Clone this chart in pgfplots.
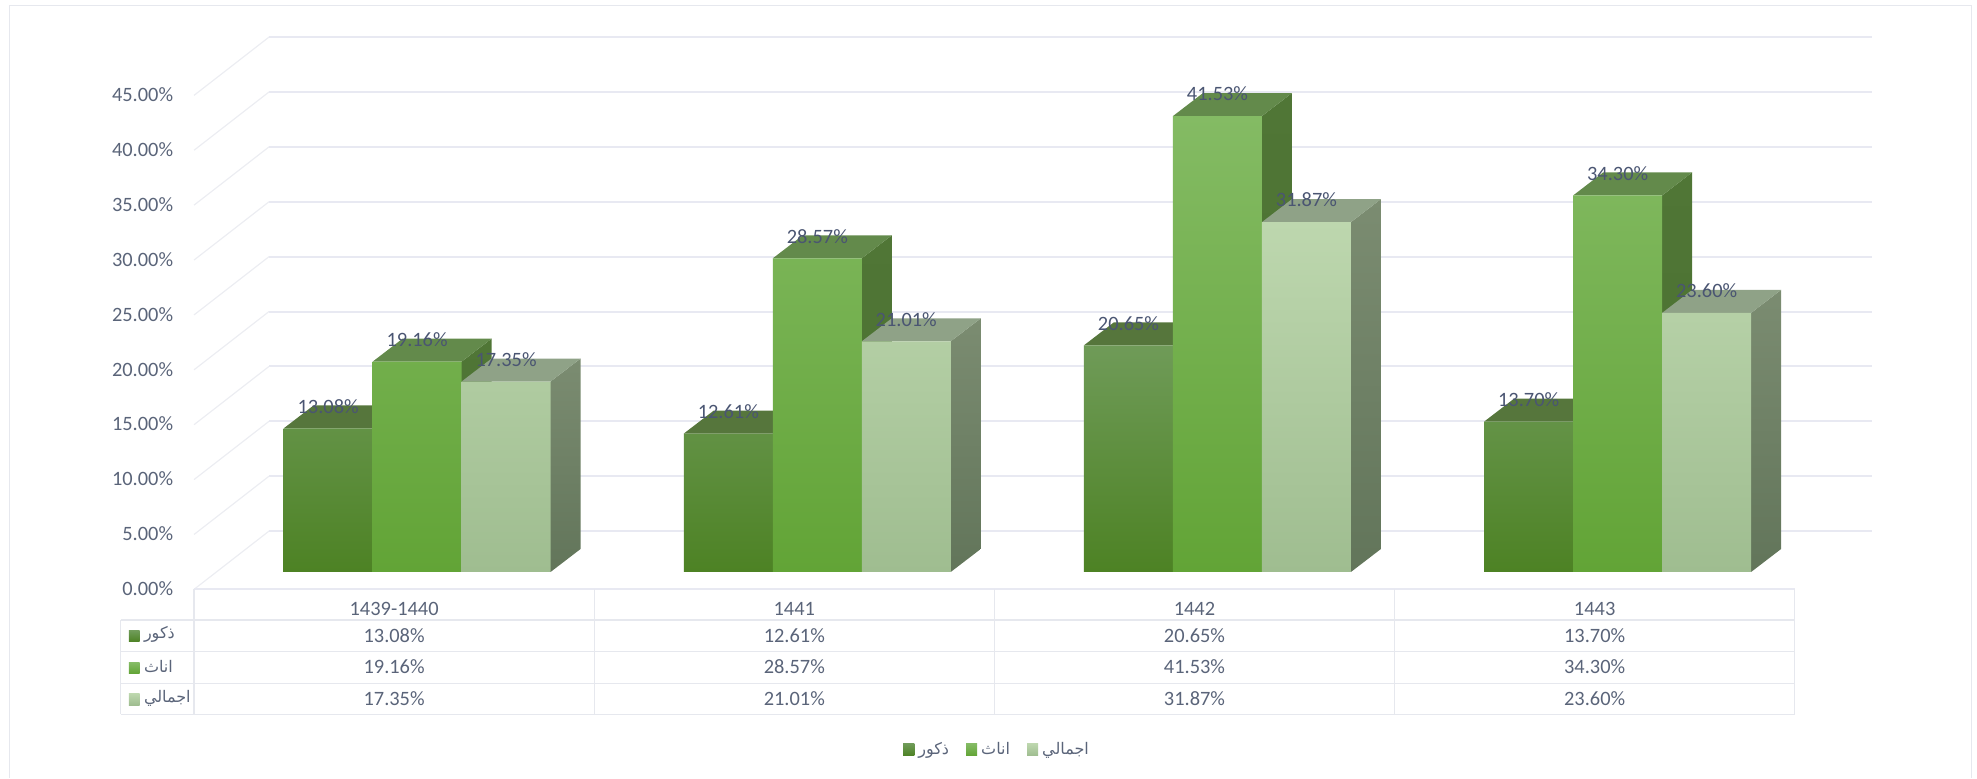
\documentclass[border=0pt]{standalone}
\usepackage{pgfplots}
\usepackage{fontspec}
\pgfplotsset{compat=1.18}
\setmainfont{Carlito}
\newfontfamily\arabicfont[Script=Arabic]{DejaVu Sans}
\TeXXeTstate=1
\definecolor{gridc}{HTML}{E8E9F2}
\definecolor{diagc}{HTML}{ECEDF2}
\definecolor{framec}{HTML}{E6E8EE}
\definecolor{tickc}{HTML}{5A6479}
\definecolor{labc}{HTML}{4A5572}
\definecolor{mTop}{HTML}{6F9B58}\definecolor{mMid}{HTML}{5E9038}\definecolor{mBot}{HTML}{4D8224}
\definecolor{mRoof}{HTML}{56763C}\definecolor{mST}{HTML}{4F7035}\definecolor{mSB}{HTML}{42651F}
\definecolor{fTop}{HTML}{84BB64}\definecolor{fMid}{HTML}{70B243}\definecolor{fBot}{HTML}{62A436}
\definecolor{fRoof}{HTML}{638A4B}\definecolor{fST}{HTML}{507636}\definecolor{fSB}{HTML}{4A7030}
\definecolor{tTop}{HTML}{BDD7AE}\definecolor{tMid}{HTML}{B9D4A9}\definecolor{tBot}{HTML}{9FBD90}
\definecolor{tRoof}{HTML}{8FA287}\definecolor{tST}{HTML}{7B8C71}\definecolor{tSB}{HTML}{62755A}
\newcommand\arab[1]{{\arabicfont\fontsize{8}{10}\selectfont\beginR #1\endR}}
% depth of a bar in axis units
\def\dX{0.07495}\def\dY{2.095}
\pgfplotsset{
  barplace/.style={forget plot,xshift=11.5pt,yshift=8.7pt,draw=none},
  frontbar/.style={barplace,ybar,bar width=44.5pt,bar shift=#1,
    nodes near coords={\pgfmathprintnumber[fixed,fixed zerofill,precision=2]{\pgfplotspointmeta}\%},
    every node near coord/.style={anchor=center,xshift=#1,yshift=11pt,text=labc,font=\fontsize{10.2}{12}\selectfont}},
  wall/.style={forget plot,xshift=37.5pt,yshift=29.15pt,gridc,line width=1pt},
  tline/.style={forget plot,framec,line width=0.7pt},
}
\tikzset{cell/.style={text=tickc,font=\fontsize{10.2}{12}\selectfont}}
% #1 group, #2 left offset, #3 value, #4 #5 side colours, #6 roof colour
\newcommand\faces[6]{%
  \pgfmathsetmacro\xL{#1+#2}\pgfmathsetmacro\xR{\xL+0.22236}%
  \pgfmathsetmacro\xLb{\xL+\dX}\pgfmathsetmacro\xRb{\xR+\dX}\pgfmathsetmacro\vb{#3+\dY}%
  \addplot[barplace,top color=#4,bottom color=#5] coordinates {(\xR,0)(\xR,#3)(\xRb,\vb)(\xRb,\dY)} --cycle;
  \addplot[barplace,fill=#6] coordinates {(\xL,#3)(\xR,#3)(\xRb,\vb)(\xLb,\vb)} --cycle;
}
\begin{document}
\begin{tikzpicture}
\begin{axis}[
  x=200.125pt,y=5.49pt,
  xmin=-0.98438,xmax=3.9550,ymin=-17.186,ymax=53.67,
  clip=false,
  axis line style={draw=none},
  major tick length=0pt,
  /pgf/number format/assume math mode=true,
  ytick={0,5,10,15,20,25,30,35,40,45},
  yticklabel={\pgfmathprintnumber[fixed,fixed zerofill,precision=2]{\tick}\%},
  yticklabel style={anchor=east,xshift=90pt,yshift=0.3pt,text=tickc,font=\fontsize{10.2}{12}\selectfont},
  xtick={0,1,2,3},
  xticklabels={1439-1440,1441,1442,1443},
  xticklabel style={anchor=center,yshift=84.6pt,text=tickc,font=\fontsize{10.2}{12}\selectfont},
  legend columns=3,
  legend cell align=left,
  legend style={at={(axis cs:1.509,-14.6)},anchor=center,draw=none,fill=none,inner sep=0pt,
    /tikz/every even column/.append style={column sep=6.5pt}},
]
% outer frame
\addplot[forget plot,framec,line width=0.5pt] coordinates {(-0.96087,-17.186)(-0.96087,53.19)(3.94144,53.19)(3.94144,-17.186)};
% back wall and side lines
\pgfplotsinvokeforeach{0,5,10,15,20,25,30,35,40,45}{
  \addplot[wall] coordinates {(-0.5,#1)(3.505,#1)};
  \addplot[forget plot,diagc,line width=0.6pt] coordinates {(-0.5,#1)(-0.3126,#1+5.31)};
}
% data table lines
\addplot[forget plot,gridc,line width=1pt] coordinates {(-0.5,0)(3.5,0)};
\addplot[tline] coordinates {(-0.6833,-2.796)(3.5,-2.796)};
\addplot[tline] coordinates {(-0.6833,-5.683)(3.5,-5.683)};
\addplot[tline] coordinates {(-0.6833,-8.561)(3.5,-8.561)};
\addplot[tline] coordinates {(-0.6833,-11.384)(3.5,-11.384)};
\addplot[tline] coordinates {(-0.6833,-2.796)(-0.6833,-11.384)};
\addplot[tline] coordinates {(-0.5,0)(-0.5,-11.384)};
\addplot[tline] coordinates {(0.5,0)(0.5,-11.384)};
\addplot[tline] coordinates {(1.5,0)(1.5,-11.384)};
\addplot[tline] coordinates {(2.5,0)(2.5,-11.384)};
\addplot[tline] coordinates {(3.5,0)(3.5,-11.384)};
% male
\faces{0}{-0.33354}{13.08}{mST}{mSB}{mRoof}
\faces{1}{-0.33354}{12.61}{mST}{mSB}{mRoof}
\faces{2}{-0.33354}{20.65}{mST}{mSB}{mRoof}
\faces{3}{-0.33354}{13.70}{mST}{mSB}{mRoof}
\addplot[frontbar=-44.5pt,top color=mTop,middle color=mMid,bottom color=mBot] coordinates {(0,13.08)(1,12.61)(2,20.65)(3,13.70)};
% female
\faces{0}{-0.11118}{19.16}{fST}{fSB}{fRoof}
\faces{1}{-0.11118}{28.57}{fST}{fSB}{fRoof}
\faces{2}{-0.11118}{41.53}{fST}{fSB}{fRoof}
\faces{3}{-0.11118}{34.30}{fST}{fSB}{fRoof}
\addplot[frontbar=0pt,top color=fTop,middle color=fMid,bottom color=fBot] coordinates {(0,19.16)(1,28.57)(2,41.53)(3,34.30)};
% total
\faces{0}{0.11118}{17.35}{tST}{tSB}{tRoof}
\faces{1}{0.11118}{21.01}{tST}{tSB}{tRoof}
\faces{2}{0.11118}{31.87}{tST}{tSB}{tRoof}
\faces{3}{0.11118}{23.60}{tST}{tSB}{tRoof}
\addplot[frontbar=44.5pt,top color=tTop,middle color=tMid,bottom color=tBot] coordinates {(0,17.35)(1,21.01)(2,31.87)(3,23.60)};
% data table text
\node[cell] at (axis cs:0,-4.226) {13.08\%};
\node[cell] at (axis cs:1,-4.226) {12.61\%};
\node[cell] at (axis cs:2,-4.226) {20.65\%};
\node[cell] at (axis cs:3,-4.226) {13.70\%};
\node[cell] at (axis cs:0,-7.077) {19.16\%};
\node[cell] at (axis cs:1,-7.077) {28.57\%};
\node[cell] at (axis cs:2,-7.077) {41.53\%};
\node[cell] at (axis cs:3,-7.077) {34.30\%};
\node[cell] at (axis cs:0,-9.927) {17.35\%};
\node[cell] at (axis cs:1,-9.927) {21.01\%};
\node[cell] at (axis cs:2,-9.927) {31.87\%};
\node[cell] at (axis cs:3,-9.927) {23.60\%};
% table keys and names
\addplot[forget plot,draw=none,top color=mTop,bottom color=mBot] coordinates {(-0.6630,-3.78)(-0.6362,-3.78)(-0.6362,-4.78)(-0.6630,-4.78)} --cycle;
\addplot[forget plot,draw=none,top color=fTop,bottom color=fBot] coordinates {(-0.6630,-6.69)(-0.6362,-6.69)(-0.6362,-7.66)(-0.6630,-7.66)} --cycle;
\addplot[forget plot,draw=none,top color=tTop,bottom color=tBot] coordinates {(-0.6630,-9.50)(-0.6362,-9.50)(-0.6362,-10.54)(-0.6630,-10.54)} --cycle;
\node[anchor=west,inner sep=0pt,text=tickc] at (axis cs:-0.626,-4.14) {\arab{ذكور}};
\node[anchor=west,inner sep=0pt,text=tickc] at (axis cs:-0.626,-7.0) {\arab{اناث}};
\node[anchor=west,inner sep=0pt,text=tickc] at (axis cs:-0.626,-9.9) {\arab{اجمالي}};
% legend
\addlegendimage{legend image code/.code={\path[draw=none,top color=mTop,bottom color=mBot] (0pt,-3pt) rectangle (5.6pt,3pt);}}
\addlegendentry{\textcolor{tickc}{\arab{ذكور}}}
\addlegendimage{legend image code/.code={\path[draw=none,top color=fTop,bottom color=fBot] (0pt,-3pt) rectangle (5.6pt,3pt);}}
\addlegendentry{\textcolor{tickc}{\arab{اناث}}}
\addlegendimage{legend image code/.code={\path[draw=none,top color=tTop,bottom color=tBot] (0pt,-3pt) rectangle (5.6pt,3pt);}}
\addlegendentry{\textcolor{tickc}{\arab{اجمالي}}}
\end{axis}
\end{tikzpicture}
\end{document}
